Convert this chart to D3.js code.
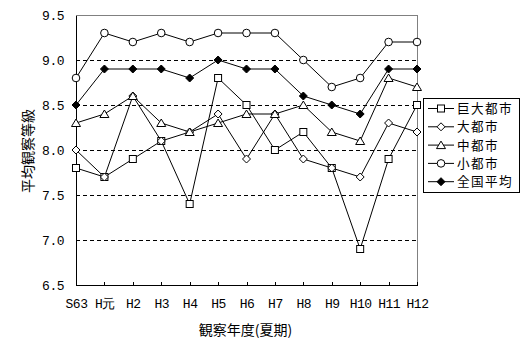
<!DOCTYPE html>
<html>
<head>
<meta charset="utf-8">
<script src="https://cdn.jsdelivr.net/npm/d3@7"></script>
<style>
  html, body { margin: 0; padding: 0; background: #fff; }
  svg { display: block; }
</style>
</head>
<body>
<svg id="chart" width="529" height="338"></svg>
<script>
// Observation years (summer season)
const years = ["S63", "H元", "H2", "H3", "H4", "H5", "H6", "H7", "H8", "H9", "H10", "H11", "H12"];

// Average observation grade by city class
const megaCity   = [7.8, 7.7, 7.9, 8.1, 7.4, 8.8, 8.5, 8.0, 8.2, 7.8, 6.9, 7.9, 8.5]; // 巨大都市
const bigCity    = [8.0, 7.7, 8.6, 8.1, 8.2, 8.4, 7.9, 8.4, 7.9, 7.8, 7.7, 8.3, 8.2]; // 大都市
const midCity    = [8.3, 8.4, 8.6, 8.3, 8.2, 8.3, 8.4, 8.4, 8.5, 8.2, 8.1, 8.8, 8.7]; // 中都市
const smallCity  = [8.8, 9.3, 9.2, 9.3, 9.2, 9.3, 9.3, 9.3, 9.0, 8.7, 8.8, 9.2, 9.2]; // 小都市
const nationAvg  = [8.5, 8.9, 8.9, 8.9, 8.8, 9.0, 8.9, 8.9, 8.6, 8.5, 8.4, 8.9, 8.9]; // 全国平均

const seriesNames = ["巨大都市", "大都市", "中都市", "小都市", "全国平均"];
const yTicks = [6.5, 7.0, 7.5, 8.0, 8.5, 9.0, 9.5];
const gridValues = [7.0, 7.5, 8.0, 8.5, 9.0];

const series = [
  { name: seriesNames[0], values: megaCity,  marker: "square" },
  { name: seriesNames[1], values: bigCity,   marker: "diamond" },
  { name: seriesNames[2], values: midCity,   marker: "triangle" },
  { name: seriesNames[3], values: smallCity, marker: "circle" },
  { name: seriesNames[4], values: nationAvg, marker: "filledDiamond" }
];

const svg = d3.select("#chart");
const plot = { left: 76, right: 417, top: 15, bottom: 285 };

const x = d3.scalePoint().domain(years).range([plot.left, plot.right]).padding(0);
const y = d3.scaleLinear().domain([6.5, 9.5]).range([plot.bottom, plot.top]);

const monoFont = "'Liberation Mono', 'DejaVu Sans Mono', monospace";
const cjkFont = "'Noto Sans CJK JP', 'Noto Sans', sans-serif";

// Plot frame: gray top/right edges
svg.append("path")
  .attr("d", `M${plot.left},${plot.top + 0.5}H${plot.right + 0.5}V${plot.bottom}`)
  .attr("fill", "none").attr("stroke", "#808080").attr("stroke-width", 1)
  .attr("shape-rendering", "crispEdges");

// Dashed gridlines
svg.append("g").selectAll("line")
  .data(gridValues).join("line")
  .attr("x1", plot.left).attr("x2", plot.right)
  .attr("y1", d => Math.round(y(d)) + 0.5).attr("y2", d => Math.round(y(d)) + 0.5)
  .attr("stroke", "#000").attr("stroke-dasharray", "4,3")
  .attr("shape-rendering", "crispEdges");

// Y axis
const yAxis = svg.append("g")
  .attr("transform", `translate(${plot.left},0)`)
  .call(d3.axisLeft(y).tickValues(yTicks).tickFormat(d3.format(".1f")).tickSize(0).tickPadding(12));
yAxis.select(".domain").attr("stroke", "#000").attr("shape-rendering", "crispEdges");
yAxis.selectAll("text")
  .attr("font-family", monoFont).attr("font-size", 13).attr("fill", "#000")
  .attr("letter-spacing", "-0.5");

// X axis with inward ticks
const xAxis = svg.append("g")
  .attr("transform", `translate(0,${plot.bottom})`)
  .call(d3.axisBottom(x).tickSizeInner(-3).tickSizeOuter(0).tickPadding(14));
xAxis.select(".domain").attr("stroke", "#000").attr("shape-rendering", "crispEdges");
xAxis.selectAll(".tick line").attr("stroke", "#000").attr("shape-rendering", "crispEdges");
xAxis.selectAll("text")
  .attr("font-family", monoFont).attr("font-size", 13).attr("fill", "#000")
  .attr("letter-spacing", "-0.5");

// Axis titles
svg.append("text")
  .attr("x", (plot.left + plot.right) / 2 - 1).attr("y", 335)
  .attr("text-anchor", "middle")
  .attr("font-family", cjkFont).attr("font-size", 14).attr("fill", "#000")
  .text("観察年度(夏期)");

svg.append("text")
  .attr("transform", `translate(33,${(plot.top + plot.bottom) / 2 + 1}) rotate(-90)`)
  .attr("text-anchor", "middle")
  .attr("font-family", cjkFont).attr("font-size", 14).attr("fill", "#000")
  .text("平均観察等級");

// Marker drawing
function drawMarker(sel, type) {
  if (type === "square") {
    sel.append("rect").attr("x", -3.5).attr("y", -3.5).attr("width", 7).attr("height", 7)
      .attr("fill", "#fff").attr("stroke", "#000");
  } else if (type === "diamond") {
    sel.append("path").attr("d", "M0,-4L4,0L0,4L-4,0Z")
      .attr("fill", "#fff").attr("stroke", "#000");
  } else if (type === "triangle") {
    sel.append("path").attr("d", "M0,-4L4.5,3.5L-4.5,3.5Z")
      .attr("fill", "#fff").attr("stroke", "#000");
  } else if (type === "circle") {
    sel.append("circle").attr("r", 3.8)
      .attr("fill", "#fff").attr("stroke", "#000");
  } else if (type === "filledDiamond") {
    sel.append("path").attr("d", "M0,-4L4,0L0,4L-4,0Z")
      .attr("fill", "#000").attr("stroke", "#000");
  }
}

const line = d3.line().x((d, i) => x(years[i])).y(d => y(d));

// Lines first, then markers on top
series.forEach(s => {
  svg.append("path")
    .attr("d", line(s.values))
    .attr("fill", "none").attr("stroke", "#000").attr("stroke-width", 1);
});
series.forEach(s => {
  const g = svg.append("g");
  s.values.forEach((v, i) => {
    const m = g.append("g").attr("transform", `translate(${x(years[i])},${y(v)})`);
    drawMarker(m, s.marker);
  });
});

// Legend
const legend = { x: 423, y: 98, w: 96, h: 94, row: 18.3 };
svg.append("rect")
  .attr("x", legend.x + 0.5).attr("y", legend.y + 0.5)
  .attr("width", legend.w).attr("height", legend.h)
  .attr("fill", "#fff").attr("stroke", "#000").attr("shape-rendering", "crispEdges");

series.forEach((s, i) => {
  const cy = legend.y + 10.5 + i * legend.row;
  svg.append("line")
    .attr("x1", legend.x + 5).attr("x2", legend.x + 31)
    .attr("y1", cy).attr("y2", cy).attr("stroke", "#000");
  const m = svg.append("g").attr("transform", `translate(${legend.x + 18},${cy})`);
  drawMarker(m, s.marker);
  svg.append("text")
    .attr("x", legend.x + 34).attr("y", cy)
    .attr("dy", "0.36em")
    .attr("font-family", cjkFont).attr("font-size", 12.6).attr("fill", "#000")
    .attr("letter-spacing", "1.4")
    .text(s.name);
});
</script>
</body>
</html>
